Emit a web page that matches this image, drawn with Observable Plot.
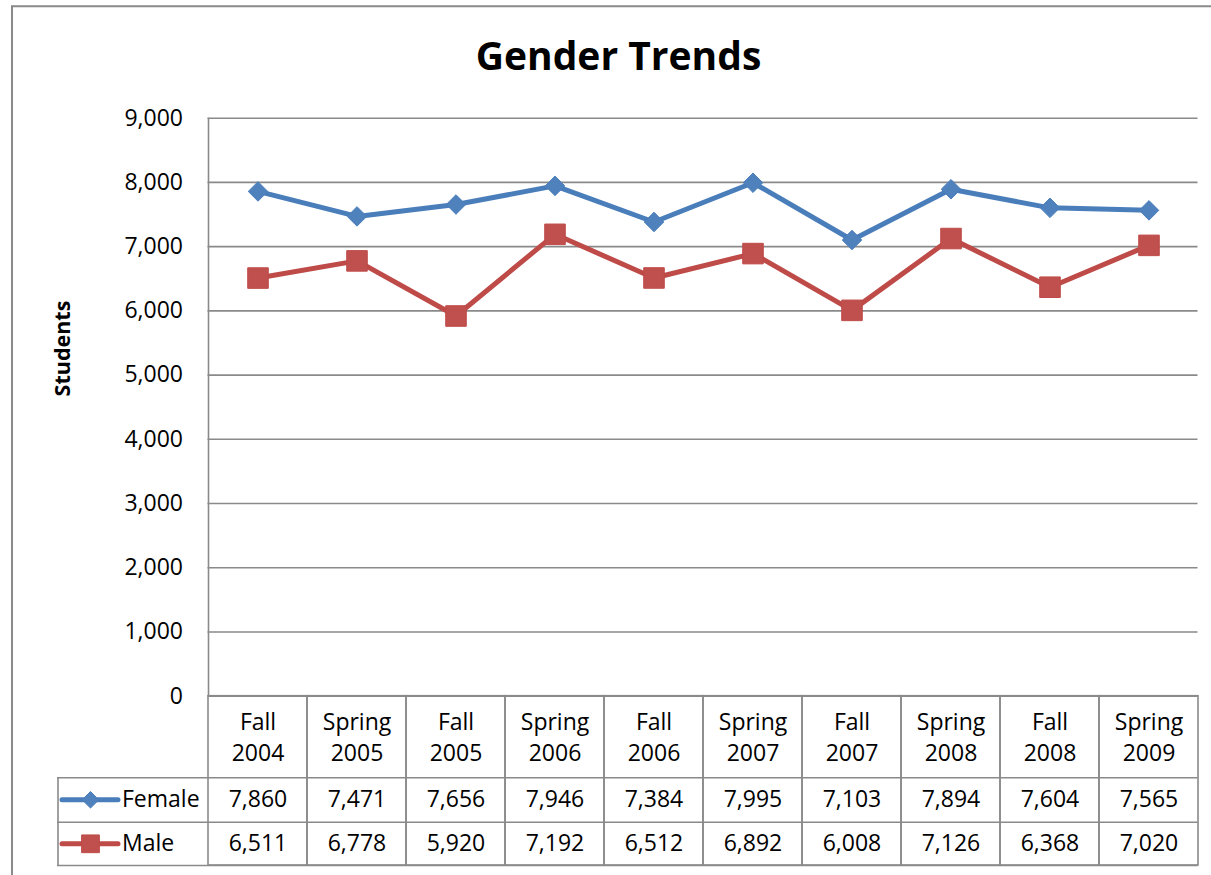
<!DOCTYPE html>
<html>
<head>
<meta charset="utf-8">
<script src="https://cdn.jsdelivr.net/npm/d3@7"></script>
<script src="https://cdn.jsdelivr.net/npm/@observablehq/plot@0.6"></script>
<style>
  html, body { margin: 0; padding: 0; background: #fff; }
  #chart svg { display: block; }
</style>
</head>
<body>
<div id="chart"></div>
<script>
const title = "Gender Trends";
const yLabel = "Students";
const categories = ["Fall 2004", "Spring 2005", "Fall 2005", "Spring 2006", "Fall 2006",
                    "Spring 2007", "Fall 2007", "Spring 2008", "Fall 2008", "Spring 2009"];
const female = [7860, 7471, 7656, 7946, 7384, 7995, 7103, 7894, 7604, 7565];
const male   = [6511, 6778, 5920, 7192, 6512, 6892, 6008, 7126, 6368, 7020];
const seriesNames = ["Female", "Male"];
const yTicks = [0, 1000, 2000, 3000, 4000, 5000, 6000, 7000, 8000, 9000];

const rows = categories.map((c, i) => ({cat: c, female: female[i], male: male[i]}));
const fmt = d3.format(",");

const W = 1211, H = 875;
const mL = 207.5, mR = 13.5, mT = 117.7, mB = 179.3;
const half = (W - mL - mR) / categories.length / 2;
const gray = "#8a8a8a";
const blue = "#4A7EBB", blueFill = "#4F81BD";
const red = "#BE4B48", redFill = "#C0504D";

// table row offsets below the zero line (pixels)
const headerMid = 39, row1Mid = 103.6, row2Mid = 147.6;
const rowLines = [81.5, 126, 169.3];
const legendLeft = -150.5;

const seriesStyle = [
  {name: seriesNames[0], key: "female", stroke: blue, fill: blueFill, symbol: "diamond2", r: 8.8, lr: 7.5, dy: row1Mid},
  {name: seriesNames[1], key: "male", stroke: red, fill: redFill, symbol: "square", r: 11.6, lr: 10, dy: row2Mid}
];

const centered = {textAnchor: "middle", lineAnchor: "middle"};

const marks = [
  // outer chart border
  Plot.ruleY([9000], {dy: -112, insetLeft: -196.5, insetRight: -20, stroke: gray, strokeWidth: 2}),
  Plot.ruleX([categories[0]], {dx: -half - 196.5, insetTop: -112, insetBottom: -200, stroke: gray, strokeWidth: 2}),
  // gridlines
  Plot.gridY(yTicks, {stroke: gray, strokeOpacity: 1, strokeWidth: 1.6}),
  // plot left border
  Plot.ruleX([categories[0]], {dx: -half, stroke: gray, strokeWidth: 1.6}),
  // y axis
  Plot.axisY(yTicks, {tickSize: 0, tickPadding: 25, tickFormat: fmt, fontSize: 23, label: null, fill: "#000"}),
  // table column outlines
  Plot.barY(categories, {x: d => d, y1: 0, y2: 0, insetBottom: -rowLines[2], fill: "none", stroke: gray, strokeWidth: 1.6}),
  // table row lines
  ...rowLines.map(o => Plot.ruleY([0], {dy: o, insetLeft: legendLeft, stroke: gray, strokeWidth: 1.6})),
  // legend column left border
  Plot.ruleX([categories[0]], {dx: -half + legendLeft, y1: 0, y2: 0, insetTop: rowLines[0], insetBottom: -rowLines[2], stroke: gray, strokeWidth: 1.6}),
  // header labels
  Plot.text(categories, {x: d => d, frameAnchor: "bottom", dy: headerMid, text: d => d.replace(" ", "\n"), lineHeight: 1.35, fontSize: 23, fill: "#000", ...centered}),
];

for (const s of seriesStyle) {
  marks.push(
    Plot.lineY(rows, {x: "cat", y: s.key, stroke: s.stroke, strokeWidth: 5}),
    Plot.dot(rows, {x: "cat", y: s.key, symbol: s.symbol, r: s.r, fill: s.fill, stroke: s.stroke, strokeWidth: 1}),
    Plot.text(rows, {x: "cat", frameAnchor: "bottom", dy: s.dy, text: d => fmt(d[s.key]), fontSize: 23, fill: "#000", ...centered}),
    // legend key in table
    Plot.ruleY([0], {dy: s.dy, insetLeft: 62 - mL, insetRight: (W - mR) - 118, stroke: s.stroke, strokeWidth: 5, strokeLinecap: "round"}),
    Plot.dot([s.name], {frameAnchor: "bottom-left", dx: 90 - mL, dy: s.dy, symbol: s.symbol, r: s.lr, fill: s.fill, stroke: s.stroke, strokeWidth: 1}),
    Plot.text([s.name], {frameAnchor: "bottom-left", dx: 121.5 - mL, dy: s.dy, fontSize: 23, fill: "#000", textAnchor: "start", lineAnchor: "middle"})
  );
}

// title and y label
marks.push(
  Plot.text([title], {frameAnchor: "top-left", dx: 618 - mL, dy: 57 - mT, fontSize: 39, fontWeight: "bold", fill: "#000", ...centered}),
  Plot.text([yLabel], {frameAnchor: "top-left", dx: 63 - mL, dy: 348 - mT, rotate: -90, fontSize: 21.5, fontWeight: "bold", fill: "#000", ...centered})
);

const chart = Plot.plot({
  width: W, height: H,
  marginLeft: mL, marginRight: mR, marginTop: mT, marginBottom: mB,
  style: {fontFamily: "'Open Sans', sans-serif", fontSize: "23px", color: "#000", background: "#fff", overflow: "visible"},
  x: {type: "band", domain: categories, padding: 0, axis: null},
  y: {domain: [0, 9000], axis: null},
  marks
});
document.getElementById("chart").append(chart);
</script>
</body>
</html>
